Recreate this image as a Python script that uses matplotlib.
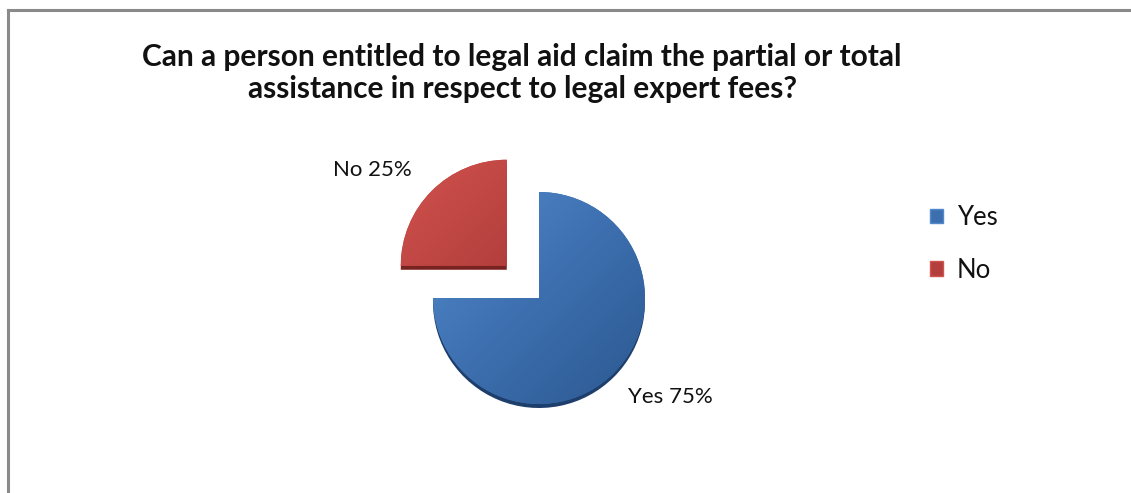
import numpy as np
import matplotlib
matplotlib.use("Agg")
import matplotlib.pyplot as plt
from matplotlib.colors import LinearSegmentedColormap
from matplotlib.lines import Line2D
from matplotlib.patches import Patch

# Survey answers
categories = ["Yes", "No"]
shares = [75, 25]
title = ("Can a person entitled to legal aid claim the partial or total\n"
         "assistance in respect to legal expert fees?")

W, H = 1131, 493
fig = plt.figure(figsize=(W / 100, H / 100), dpi=100)
fig.patch.set_facecolor("white")
ax = fig.add_axes([0, 0, 1, 1])
ax.set_xlim(0, W)
ax.set_ylim(0, H)
ax.set_aspect("equal")
ax.axis("off")

font = "Lato"

# chart frame (top and left edges visible)
fig.add_artist(Line2D([8 / W, 1], [1 - 10 / H, 1 - 10 / H], color="#8a8a8a", lw=2.2,
                      transform=fig.transFigure))
fig.add_artist(Line2D([8 / W, 8 / W], [1 - 10 / H, 0], color="#8a8a8a", lw=2.2,
                      transform=fig.transFigure))

ax.text(522, H - 73, title, ha="center", va="center", fontsize=21.5,
        fontweight="bold", family=font, linespacing=1.2, color="#111111")

center = (539, H - 298)
radius = 106
explode_frac = [0, 0.43]
explode = [f * radius for f in explode_frac]

light = ["#5189cb", "#d2524e"]
dark = ["#2b5890", "#8c2a27"]
rim = ["#1e3e6c", "#7a2220"]
mid = ["#3d6faf", "#b23f3c"]

# thickness of the pie seen below the top face
shadow, _ = ax.pie(shares, startangle=90, counterclock=False, explode=explode,
                   center=(center[0], center[1] - 4), radius=radius,
                   colors=rim, wedgeprops=dict(linewidth=0))

wedges, _ = ax.pie(shares, startangle=90, counterclock=False, explode=explode,
                   center=center, radius=radius, colors=mid,
                   wedgeprops=dict(linewidth=0))

# diagonal shading on each slice
yy, xx = np.mgrid[0:1:200j, 0:1:200j]
grad = (xx + (1 - yy)) / 2.0
for i, w in enumerate(wedges):
    cx, cy = w.center
    r = w.r
    cmap = LinearSegmentedColormap.from_list(f"g{i}", [light[i], mid[i], dark[i]])
    im = ax.imshow(grad, cmap=cmap, extent=(cx - r, cx + r, cy - r, cy + r),
                   origin="lower", interpolation="bilinear", zorder=w.get_zorder() + 0.1)
    im.set_clip_path(w)
ax.set_xlim(0, W)
ax.set_ylim(0, H)

# data labels
label_pos = {"No": (372, H - 170), "Yes": (670, H - 397)}
for cat, val in zip(categories, shares):
    ax.text(*label_pos[cat], f"{cat} {val}%", ha="center", va="center",
            fontsize=16, family=font, color="#111111")

handles = [Patch(facecolor=mid[i], edgecolor=light[i], label=c)
           for i, c in enumerate(categories)]
leg = fig.legend(handles=handles, loc="upper left",
                 bbox_to_anchor=(912 / W, 1 - 187 / H), frameon=False,
                 prop=dict(family=font, size=18.5), handlelength=0.5,
                 handleheight=0.5, handletextpad=0.55, labelspacing=1.08,
                 borderpad=0.2)
for t in leg.get_texts():
    t.set_color("#111111")

fig.savefig("out.png", dpi=100, facecolor="white")
